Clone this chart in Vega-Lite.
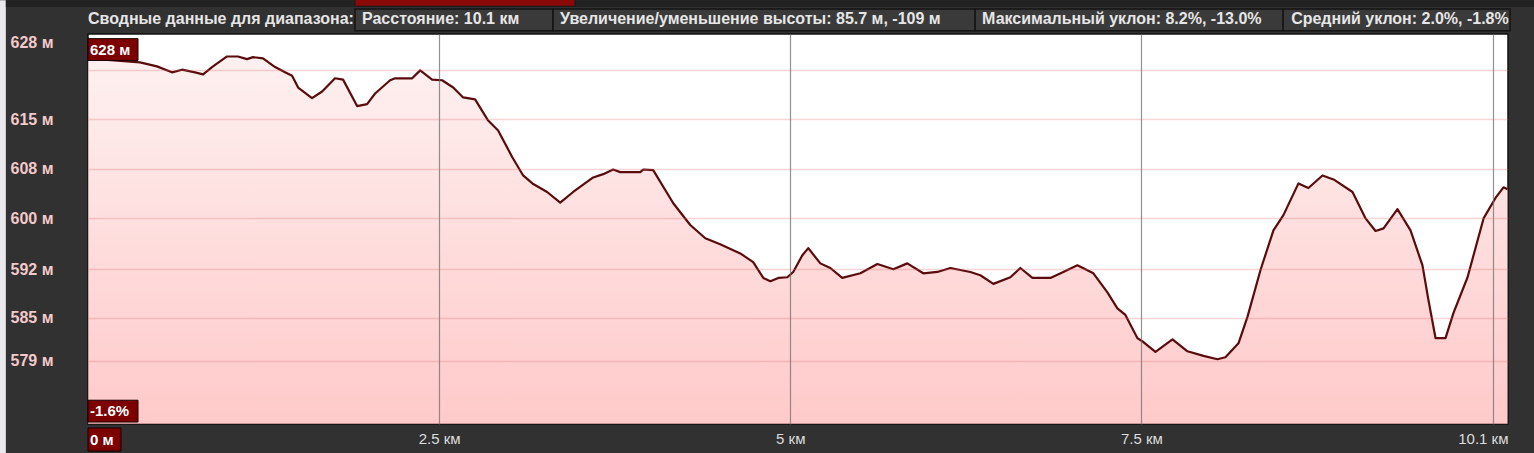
{
  "$schema": "https://vega.github.io/schema/vega-lite/v6.json",
  "width": 1420,
  "height": 390,
  "autosize": {"type": "none"},
  "padding": {"left": 88, "top": 34, "right": 26, "bottom": 29},
  "background": "#313131",
  "config": {
    "view": {"fill": "#ffffff", "stroke": "#111111", "strokeWidth": 1.5},
    "text": {"font": "Liberation Sans"}
  },
  "datasets": {
    "profile": [
      {"d": 0.0, "e": 624.3}, {"d": 0.37, "e": 623.7}, {"d": 0.491, "e": 623.1}, {"d": 0.598, "e": 622.2},
      {"d": 0.67, "e": 622.6}, {"d": 0.762, "e": 622.2}, {"d": 0.819, "e": 621.9}, {"d": 0.89, "e": 623.1},
      {"d": 0.99, "e": 624.6}, {"d": 1.068, "e": 624.6}, {"d": 1.132, "e": 624.2}, {"d": 1.175, "e": 624.5},
      {"d": 1.246, "e": 624.3}, {"d": 1.332, "e": 623.0}, {"d": 1.403, "e": 622.2}, {"d": 1.453, "e": 621.7},
      {"d": 1.496, "e": 619.9}, {"d": 1.595, "e": 618.3}, {"d": 1.667, "e": 619.3}, {"d": 1.759, "e": 621.3},
      {"d": 1.816, "e": 621.1}, {"d": 1.916, "e": 617.1}, {"d": 1.987, "e": 617.4}, {"d": 2.044, "e": 619.0},
      {"d": 2.151, "e": 621.0}, {"d": 2.187, "e": 621.3}, {"d": 2.308, "e": 621.3}, {"d": 2.365, "e": 622.5},
      {"d": 2.45, "e": 621.1}, {"d": 2.521, "e": 621.0}, {"d": 2.6, "e": 619.9}, {"d": 2.671, "e": 618.4},
      {"d": 2.756, "e": 618.1}, {"d": 2.849, "e": 614.9}, {"d": 2.92, "e": 613.4}, {"d": 3.02, "e": 609.4},
      {"d": 3.098, "e": 606.6}, {"d": 3.17, "e": 605.3}, {"d": 3.269, "e": 604.1}, {"d": 3.362, "e": 602.5},
      {"d": 3.454, "e": 604.1}, {"d": 3.597, "e": 606.3}, {"d": 3.668, "e": 606.8}, {"d": 3.739, "e": 607.5},
      {"d": 3.789, "e": 607.1}, {"d": 3.932, "e": 607.1}, {"d": 3.953, "e": 607.5}, {"d": 4.024, "e": 607.4},
      {"d": 4.167, "e": 602.4}, {"d": 4.288, "e": 599.1}, {"d": 4.395, "e": 597.1}, {"d": 4.501, "e": 596.2},
      {"d": 4.644, "e": 594.8}, {"d": 4.736, "e": 593.5}, {"d": 4.808, "e": 591.1}, {"d": 4.858, "e": 590.6},
      {"d": 4.915, "e": 591.1}, {"d": 4.979, "e": 591.2}, {"d": 5.021, "e": 592.0}, {"d": 5.085, "e": 594.5},
      {"d": 5.128, "e": 595.6}, {"d": 5.214, "e": 593.3}, {"d": 5.285, "e": 592.6}, {"d": 5.37, "e": 591.1},
      {"d": 5.499, "e": 591.8}, {"d": 5.62, "e": 593.2}, {"d": 5.734, "e": 592.4}, {"d": 5.833, "e": 593.3},
      {"d": 5.947, "e": 591.8}, {"d": 6.047, "e": 592.0}, {"d": 6.14, "e": 592.6}, {"d": 6.282, "e": 592.0},
      {"d": 6.353, "e": 591.5}, {"d": 6.446, "e": 590.2}, {"d": 6.567, "e": 591.2}, {"d": 6.638, "e": 592.6},
      {"d": 6.724, "e": 591.1}, {"d": 6.852, "e": 591.1}, {"d": 6.944, "e": 592.0}, {"d": 7.044, "e": 593.0},
      {"d": 7.158, "e": 591.8}, {"d": 7.258, "e": 588.9}, {"d": 7.329, "e": 586.5}, {"d": 7.386, "e": 585.5},
      {"d": 7.471, "e": 582.0}, {"d": 7.514, "e": 581.4}, {"d": 7.6, "e": 579.9}, {"d": 7.721, "e": 581.8},
      {"d": 7.828, "e": 580.0}, {"d": 7.942, "e": 579.3}, {"d": 8.041, "e": 578.8}, {"d": 8.098, "e": 579.1},
      {"d": 8.191, "e": 581.2}, {"d": 8.255, "e": 585.2}, {"d": 8.348, "e": 592.3}, {"d": 8.44, "e": 598.3},
      {"d": 8.511, "e": 600.6}, {"d": 8.618, "e": 605.4}, {"d": 8.689, "e": 604.7}, {"d": 8.789, "e": 606.6},
      {"d": 8.868, "e": 606.0}, {"d": 9.003, "e": 604.1}, {"d": 9.096, "e": 600.1}, {"d": 9.167, "e": 598.2},
      {"d": 9.224, "e": 598.6}, {"d": 9.323, "e": 601.5}, {"d": 9.416, "e": 598.3}, {"d": 9.501, "e": 593.0},
      {"d": 9.544, "e": 587.7}, {"d": 9.594, "e": 582.0}, {"d": 9.665, "e": 582.0}, {"d": 9.722, "e": 585.8},
      {"d": 9.822, "e": 591.2}, {"d": 9.936, "e": 600.1}, {"d": 10.021, "e": 603.2}, {"d": 10.078, "e": 604.8},
      {"d": 10.107, "e": 604.5}
    ],
    "one": [{}]
  },
  "data": {"name": "profile"},
  "layer": [
    {
      "data": {"name": "profile"},
      "mark": {
        "type": "area",
        "interpolate": "linear",
        "clip": true,
        "fill": {
          "x1": 0, "y1": 0, "x2": 0, "y2": 1,
          "gradient": "linear",
          "stops": [
            {"offset": 0, "color": "#fdeaea"},
            {"offset": 1, "color": "#ffb2b2"}
          ]
        },
        "line": {"color": "#5a0b0b", "strokeWidth": 2.2, "strokeJoin": "round"}
      },
      "encoding": {
        "x": {
          "field": "d", "type": "quantitative",
          "scale": {"domain": [0, 10.11], "nice": false, "zero": false},
          "axis": {
            "values": [2.5, 5, 7.5, 10, 10.11],
            "title": null,
            "domain": false,
            "ticks": false,
            "tickSize": 0,
            "labelPadding": 7,
            "labelFont": "Liberation Sans",
            "labelFontSize": 15,
            "labelColor": "#dcdcdc",
            "labelExpr": "datum.value > 10.05 ? '10.1 км' : (datum.value > 9.9 ? '' : datum.value + ' км')",
            "labelAlign": {"condition": {"test": "datum.value > 10.05", "value": "right"}, "value": "center"},
            "labelOverlap": false,
            "labelBound": false,
            "labelFlush": false,
            "grid": true,
            "gridColor": "#6e6e6e",
            "gridWidth": 1.2,
            "gridOpacity": {"condition": {"test": "datum.value > 10.05", "value": 0}, "value": 0.75},
            "zindex": 1
          }
        },
        "y": {
          "field": "e", "type": "quantitative",
          "scale": {"domain": [569, 628], "nice": false, "zero": false},
          "axis": {
            "values": [628, 622.6, 615.1, 607.6, 600.1, 592.4, 585.1, 578.6],
            "title": null,
            "domain": false,
            "ticks": false,
            "tickSize": 0,
            "labelPadding": 78,
            "labelAlign": "left",
            "labelFont": "Liberation Sans",
            "labelFontSize": 16,
            "labelFontWeight": "bold",
            "labelColor": "#f3c9c9",
            "labelExpr": "datum.value > 627 ? '628 м' : (datum.value > 620 ? '' : format(datum.value, '.0f') + ' м')",
            "labelBaseline": {"condition": {"test": "datum.value > 627", "value": "top"}, "value": "middle"},
            "labelOverlap": false,
            "labelBound": false,
            "labelFlush": false,
            "grid": true,
            "gridColor": "#e06a6a",
            "gridWidth": 1.5,
            "gridOpacity": {"condition": {"test": "datum.value > 627", "value": 0}, "value": 0.28},
            "zindex": 1
          }
        },
        "y2": {"datum": 569}
      }
    },
    {
      "data": {"name": "one"},
      "mark": {"type": "rect", "fill": "#e9e9ee"},
      "encoding": {
        "x": {"datum": -0.627, "type": "quantitative"},
        "x2": {"datum": -0.585},
        "y": {"datum": 564.6, "type": "quantitative"},
        "y2": {"datum": 633.1}
      }
    },
    {
      "data": {"name": "one"},
      "mark": {"type": "rect", "fill": "#222222"},
      "encoding": {
        "x": {"datum": -0.585, "type": "quantitative"},
        "x2": {"datum": 10.3},
        "y": {"datum": 632.1, "type": "quantitative"},
        "y2": {"datum": 633.1}
      }
    },
    {
      "data": {"name": "one"},
      "mark": {"type": "rect", "fill": "#8a0a0a", "stroke": "#1a1a1a", "strokeWidth": 1},
      "encoding": {
        "x": {"datum": 1.901, "type": "quantitative"},
        "x2": {"datum": 3.467},
        "y": {"datum": 632.2, "type": "quantitative"},
        "y2": {"datum": 633.3}
      }
    },
    {
      "data": {"name": "one"},
      "mark": {"type": "rect", "fill": "#3a3a3a", "stroke": "#151515", "strokeWidth": 1.5},
      "encoding": {
        "x": {"datum": 1.901, "type": "quantitative"},
        "x2": {"datum": 3.311},
        "y": {"datum": 628.5, "type": "quantitative"},
        "y2": {"datum": 631.8}
      }
    },
    {
      "data": {"name": "one"},
      "mark": {"type": "rect", "fill": "#3a3a3a", "stroke": "#151515", "strokeWidth": 1.5},
      "encoding": {
        "x": {"datum": 3.311, "type": "quantitative"},
        "x2": {"datum": 6.316},
        "y": {"datum": 628.5, "type": "quantitative"},
        "y2": {"datum": 631.8}
      }
    },
    {
      "data": {"name": "one"},
      "mark": {"type": "rect", "fill": "#3a3a3a", "stroke": "#151515", "strokeWidth": 1.5},
      "encoding": {
        "x": {"datum": 6.316, "type": "quantitative"},
        "x2": {"datum": 8.509},
        "y": {"datum": 628.5, "type": "quantitative"},
        "y2": {"datum": 631.8}
      }
    },
    {
      "data": {"name": "one"},
      "mark": {"type": "rect", "fill": "#3a3a3a", "stroke": "#151515", "strokeWidth": 1.5},
      "encoding": {
        "x": {"datum": 8.509, "type": "quantitative"},
        "x2": {"datum": 10.125},
        "y": {"datum": 628.5, "type": "quantitative"},
        "y2": {"datum": 631.8}
      }
    },
    {
      "data": {"name": "one"},
      "mark": {"type": "text", "align": "left", "baseline": "middle", "fontSize": 16, "fontWeight": "bold", "color": "#e6e6e6", "dx": 0},
      "encoding": {
        "x": {"datum": 0, "type": "quantitative"},
        "y": {"datum": 630.2, "type": "quantitative"},
        "text": {"value": "Сводные данные для диапазона:"}
      }
    },
    {
      "data": {"name": "one"},
      "mark": {"type": "text", "align": "left", "baseline": "middle", "fontSize": 16, "fontWeight": "bold", "color": "#e6e6e6", "dx": 7},
      "encoding": {
        "x": {"datum": 1.901, "type": "quantitative"},
        "y": {"datum": 630.2, "type": "quantitative"},
        "text": {"value": "Расстояние: 10.1 км"}
      }
    },
    {
      "data": {"name": "one"},
      "mark": {"type": "text", "align": "left", "baseline": "middle", "fontSize": 16, "fontWeight": "bold", "color": "#e6e6e6", "dx": 7},
      "encoding": {
        "x": {"datum": 3.311, "type": "quantitative"},
        "y": {"datum": 630.2, "type": "quantitative"},
        "text": {"value": "Увеличение/уменьшение высоты: 85.7 м, -109 м"}
      }
    },
    {
      "data": {"name": "one"},
      "mark": {"type": "text", "align": "left", "baseline": "middle", "fontSize": 16, "fontWeight": "bold", "color": "#e6e6e6", "dx": 7},
      "encoding": {
        "x": {"datum": 6.316, "type": "quantitative"},
        "y": {"datum": 630.2, "type": "quantitative"},
        "text": {"value": "Максимальный уклон: 8.2%, -13.0%"}
      }
    },
    {
      "data": {"name": "one"},
      "mark": {"type": "text", "align": "left", "baseline": "middle", "fontSize": 16, "fontWeight": "bold", "color": "#e6e6e6", "dx": 8},
      "encoding": {
        "x": {"datum": 8.509, "type": "quantitative"},
        "y": {"datum": 630.2, "type": "quantitative"},
        "text": {"value": "Средний уклон: 2.0%, -1.8%"}
      }
    },
    {
      "data": {"name": "one"},
      "mark": {"type": "rect", "fill": "#7c0000", "stroke": "#1a0000", "strokeWidth": 1},
      "encoding": {
        "x": {"datum": 0, "type": "quantitative"},
        "x2": {"datum": 0.356},
        "y": {"datum": 624.0, "type": "quantitative"},
        "y2": {"datum": 627.3}
      }
    },
    {
      "data": {"name": "one"},
      "mark": {"type": "text", "align": "left", "baseline": "middle", "fontSize": 15, "fontWeight": "bold", "color": "#ffffff", "dx": 2},
      "encoding": {
        "x": {"datum": 0, "type": "quantitative"},
        "y": {"datum": 625.65, "type": "quantitative"},
        "text": {"value": "628 м"}
      }
    },
    {
      "data": {"name": "one"},
      "mark": {"type": "rect", "fill": "#7c0000", "stroke": "#1a0000", "strokeWidth": 1},
      "encoding": {
        "x": {"datum": 0, "type": "quantitative"},
        "x2": {"datum": 0.356},
        "y": {"datum": 569.3, "type": "quantitative"},
        "y2": {"datum": 572.6}
      }
    },
    {
      "data": {"name": "one"},
      "mark": {"type": "text", "align": "left", "baseline": "middle", "fontSize": 15, "fontWeight": "bold", "color": "#ffffff", "dx": 2},
      "encoding": {
        "x": {"datum": 0, "type": "quantitative"},
        "y": {"datum": 570.95, "type": "quantitative"},
        "text": {"value": "-1.6%"}
      }
    },
    {
      "data": {"name": "one"},
      "mark": {"type": "rect", "fill": "#7c0000", "stroke": "#1a0000", "strokeWidth": 1},
      "encoding": {
        "x": {"datum": 0, "type": "quantitative"},
        "x2": {"datum": 0.235},
        "y": {"datum": 564.9, "type": "quantitative"},
        "y2": {"datum": 568.4}
      }
    },
    {
      "data": {"name": "one"},
      "mark": {"type": "text", "align": "left", "baseline": "middle", "fontSize": 15, "fontWeight": "bold", "color": "#ffffff", "dx": 2},
      "encoding": {
        "x": {"datum": 0, "type": "quantitative"},
        "y": {"datum": 566.6, "type": "quantitative"},
        "text": {"value": "0 м"}
      }
    }
  ]
}
